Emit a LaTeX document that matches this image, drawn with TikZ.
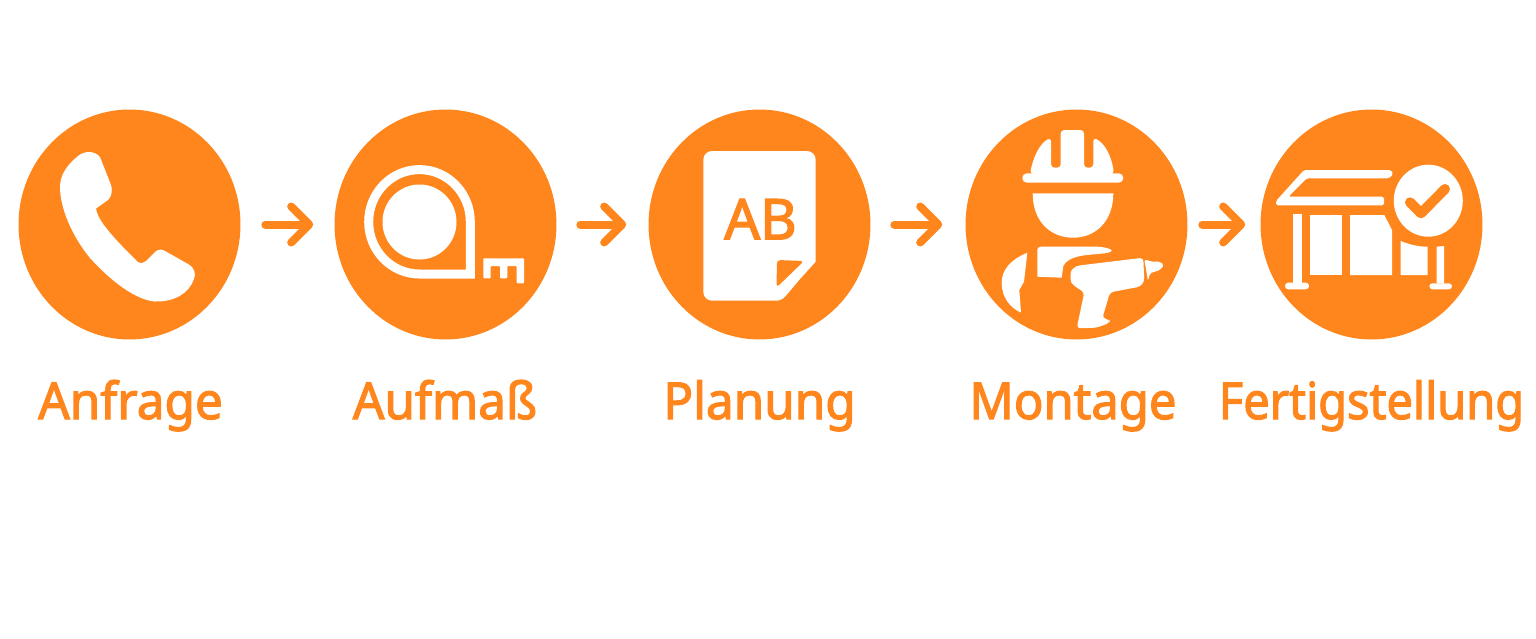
\documentclass[tikz,border=0pt]{standalone}
\usepackage{fontspec}
\newfontfamily\planfont{Noto Sans}[FakeBold=2.4]
\usetikzlibrary{arrows.meta, shapes.geometric}
\definecolor{planorange}{HTML}{FF861C}
\tikzset{
    stepdisc/.style={ellipse, fill=planorange, minimum width=4.44cm, minimum height=4.6cm, inner sep=0pt},
    steplabel/.style={anchor=base, text=planorange, inner sep=0pt, xscale=0.97, transform shape, font=\fontsize{29}{29}\selectfont\planfont},
    nextarrow/.style={draw=planorange, line width=0.16cm, line cap=round, -{Straight Barb[length=0.36cm, width=0.72cm, line width=0.16cm, round]}},
    iconfill/.style={fill=white, draw=none},
    iconline/.style={draw=white, fill=none}
}
\begin{document}
\begin{tikzpicture}[x=0.02cm, y=-0.02cm]
        \useasboundingbox (0,0) rectangle (1536,639);
        \node[stepdisc] (anfrage) at (129.5,224.5) {};
        \node[stepdisc] (aufmass) at (445.5,224.5) {};
        \node[stepdisc] (planung) at (759.5,224.5) {};
        \node[stepdisc] (montage) at (1076.5,224.5) {};
        \node[stepdisc] (fertig) at (1371.5,224.5) {};
        \draw[nextarrow, shorten <=0.49cm, shorten >=0.42cm] (anfrage) -- (aufmass);
        \draw[nextarrow, shorten <=0.47cm, shorten >=0.44cm] (aufmass) -- (planung);
        \draw[nextarrow, shorten <=0.47cm, shorten >=0.46cm] (planung) -- (montage);
        \draw[nextarrow, shorten <=0.29cm, shorten >=0.30cm] (montage) -- (fertig);
        \node[steplabel] (anfragetext) at (130.5,419) {Anfrage};
        \node[steplabel] (aufmasstext) at (445,419) {Aufmaß};
        \node[steplabel] (planungtext) at (759.5,419) {Planung};
        \node[steplabel, xscale=0.99] (montagetext) at (1073,419) {Montage};
        \node[steplabel, xscale=0.95] (fertigtext) at (1371.5,419) {Fertigstellung};

        \fill[iconfill] (78,156) .. controls (84,151) and (94,150) .. (100,157) -- (111,185) .. controls (113,192) and (111,197) .. (108,200) -- (96,208.5) .. controls (97,218) and (108,233) .. (138,262) .. controls (141,264) and (144,263) .. (146,261) -- (155,252) .. controls (158,249) and (162,249) .. (165,251) -- (188,264) .. controls (195,268) and (196,274) .. (194,279) .. controls (189,293) and (175,302) .. (155,301.5) .. controls (135,300) and (110,280) .. (90,258) .. controls (72,236) and (60,208) .. (60,187) .. controls (60,175) and (67,165) .. (78,156) -- cycle;

        \draw[iconline, line width=0.18cm, line join=miter] (470.3,221.8) arc[start angle=0, end angle=-270, x radius=50.8, y radius=52.2] -- (470.3,274) -- cycle;
        \fill[iconfill] (419.5,222) circle [x radius=37, y radius=37.5];
        \fill[iconfill, rounded corners=0.5pt] (483.3,258.3) -- (524,258.3) -- (524,283.3) -- (516.7,283.3) -- (516.7,266) -- (507.3,266) -- (507.3,278.3) -- (500,278.3) -- (500,266) -- (490.7,266) -- (490.7,278.3) -- (483.3,278.3) -- cycle;

        \fill[iconfill, rounded corners=5pt] (703.3,151) -- (815.7,151) -- (815.7,200) [sharp corners] -- (815.7,261.7) -- (800,279) [rounded corners=3pt] -- (781.7,300.7) -- (770,300.7) [rounded corners=5pt] -- (703.3,300.7) -- cycle;
        \fill[planorange, rounded corners=2pt] (776.5,287.5) -- (777,260) -- (804,261) -- cycle;
        \node[text=planorange, inner sep=0pt, anchor=base, font=\fontsize{32}{32}\selectfont\planfont] (abtext) at (760.5,239.3) {AB};

        \fill[iconfill, rounded corners=2pt] (1030,174) .. controls (1033.3,156.7) and (1040,143.3) .. (1051,137.7) -- (1051,167.7) -- (1060.7,167.7) -- (1060.7,130) -- (1084,130) -- (1084,167.7) -- (1093.3,167.7) -- (1093.3,137.7) .. controls (1105,143.3) and (1111.7,156.7) .. (1114,174) -- cycle;
        \fill[iconfill, rounded corners=2.6pt] (1022.3,173.3) rectangle (1123.3,182.7);
        \fill[iconfill] (1032.7,193.3) -- (1113.3,193.3) .. controls (1113.3,222) and (1095,237.7) .. (1073,237.7) .. controls (1051,237.7) and (1032.7,222) .. cycle;
        \fill[iconfill] (1037.3,250) .. controls (1037.3,248) and (1038.5,246.7) .. (1041,246.7) -- (1097,246.7) .. controls (1105,247) and (1111.7,249) .. (1111.7,250.7) .. controls (1111.7,252.5) and (1105,253.5) .. (1098,254) .. controls (1085,255) and (1068,256) .. (1063.3,266) -- (1061.7,277.7) -- (1037.3,276.7) -- cycle;
        \fill[iconfill] (1027.3,252.7) .. controls (1010,260) and (1001.7,270) .. (1001.7,283) .. controls (1001.7,297) and (1010,308) .. (1021,312.5) -- (1019.3,290) -- (1024,281.7) -- cycle;
        \fill[iconfill, rounded corners=2pt] (1143.3,257.7) -- (1083.3,265) .. controls (1075,266) and (1070.7,270) .. (1070.7,276.7) .. controls (1070.7,283) and (1074,286) .. (1084.3,292.3) -- (1076.7,328.3) -- (1096.7,327.7) -- (1110,322.7) -- (1109.3,319.3) -- (1102.3,318.3) -- (1110,292.3) -- (1140,286.7) -- (1144.3,281.7) -- cycle;
        \fill[iconfill, rounded corners=1pt] (1144.3,259.3) -- (1151.7,261.7) -- (1160,261.7) -- (1164,265) -- (1160,270) -- (1150,273.3) -- (1148,281) -- cycle;

        \fill[iconfill, rounded corners=1pt] (1304,170) -- (1391,170) -- (1393.3,174) -- (1389,178.3) -- (1306.7,178.3) -- (1288.3,196.7) -- (1384,196.7) -- (1384,205.3) -- (1276,205.3) -- (1276,201) -- cycle;
        \fill[iconfill] (1293.3,214.3) rectangle (1301.7,283);
        \fill[iconfill, rounded corners=1.8pt] (1285,282.7) rectangle (1309,289.3);
        \fill[iconfill] (1310,215) rectangle (1341.7,275);
        \fill[iconfill] (1350,215) -- (1384.3,215) -- (1392,230) -- (1392,275) -- (1350,275) -- cycle;
        \fill[iconfill] (1400.7,241) .. controls (1409,244.5) and (1418,246.7) .. (1427.7,246.7) -- (1427.7,275) -- (1400.7,275) -- cycle;
        \fill[iconfill] (1436.7,246.7) -- (1444,246) -- (1444,283.3) -- (1436.7,283.3) -- cycle;
        \fill[iconfill, rounded corners=1.8pt] (1429.3,283.3) rectangle (1452,289.3);
        \fill[iconfill] (1428.3,200.7) circle [x radius=34.5, y radius=36];
        \draw[draw=planorange, line width=0.2cm, line cap=round, line join=round] (1410,202.3) -- (1421,213.3) -- (1445,189);
    \end{tikzpicture}
\end{document}
